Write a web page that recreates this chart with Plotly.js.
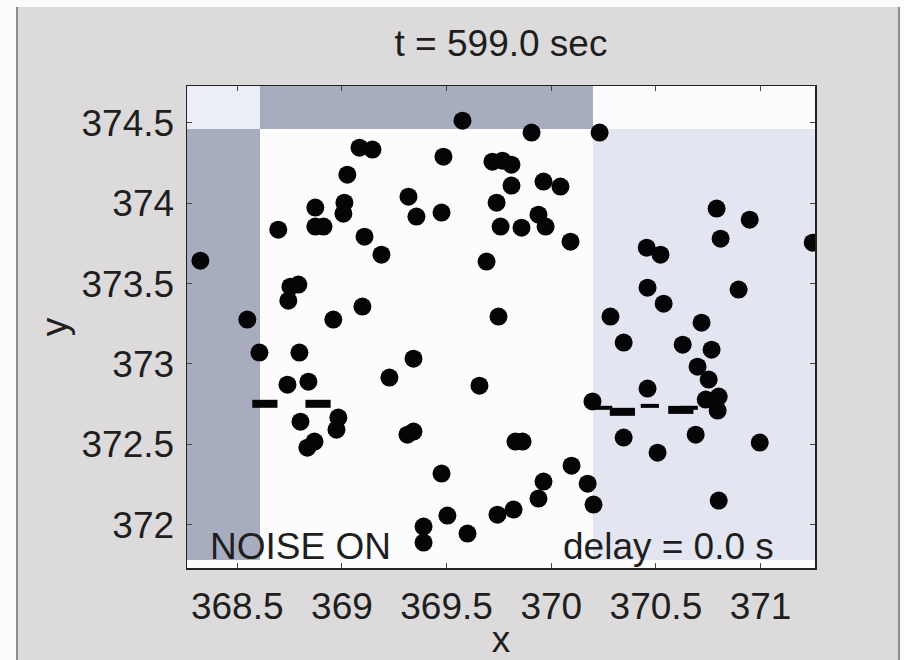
<!DOCTYPE html>
<html>
<head>
<meta charset="utf-8">
<script src="https://cdn.plot.ly/plotly-3.0.1.min.js"></script>
<style>
  html, body { margin: 0; padding: 0; background: #fbfbfb; width: 904px; height: 660px; overflow: hidden; }
  #frame { position: absolute; left: 16px; top: 7px; width: 880px; height: 653px;
           border-left: 2px solid #8c8c8c; border-right: 2px solid #8c8c8c; background: #dddadb; }
  #chart { width: 880px; height: 653px; }
</style>
</head>
<body>
<div id="frame"><div id="chart"></div></div>
<script>
// ---- data ----
const dotX = [
  368.324, 368.548, 368.606, 368.696, 368.873, 368.873, 368.912, 369.026, 369.012, 369.007,
  369.084, 369.146, 369.485, 369.318, 369.356, 369.476, 369.108, 369.189, 368.754, 368.792,
  368.744, 369.098, 368.959, 368.797, 369.342, 368.740, 368.840, 369.227, 368.802, 368.983,
  368.974, 369.313, 369.342, 368.835, 368.869, 369.476, 369.504, 369.600, 369.390, 369.390,
  369.576, 369.906, 370.231, 369.719, 369.767, 369.810, 369.810, 369.739, 369.963, 370.044,
  369.939, 369.973, 369.758, 369.858, 370.092, 369.691, 369.748, 369.657, 369.829, 369.863,
  370.097, 369.963, 370.174, 369.939, 370.202, 369.820, 369.743,
  370.790, 370.948, 370.809, 371.249, 370.456, 370.522, 370.460, 370.895, 370.537, 370.283,
  370.718, 370.346, 370.628, 370.766, 370.699, 370.752, 370.460, 370.800, 370.795, 370.346,
  370.690, 370.996, 370.508, 370.800, 370.197, 370.738
];
const dotY = [
  373.643, 373.276, 373.071, 373.836, 373.973, 373.855, 373.855, 374.178, 374.004, 373.935,
  374.346, 374.334, 374.290, 374.041, 373.917, 373.942, 373.792, 373.680, 373.481, 373.494,
  373.394, 373.357, 373.276, 373.071, 373.033, 372.871, 372.890, 372.915, 372.641, 372.666,
  372.591, 372.560, 372.579, 372.479, 372.517, 372.318, 372.056, 371.944, 371.988, 371.888,
  374.514, 374.440, 374.440, 374.259, 374.265, 374.240, 374.110, 374.004, 374.135, 374.104,
  373.929, 373.855, 373.855, 373.848, 373.761, 373.637, 373.295, 372.865, 372.517, 372.517,
  372.367, 372.268, 372.255, 372.162, 372.125, 372.094, 372.062,
  373.967, 373.898, 373.780, 373.755, 373.724, 373.680, 373.475, 373.463, 373.375, 373.295,
  373.257, 373.133, 373.120, 373.089, 372.983, 372.903, 372.847, 372.797, 372.710, 372.542,
  372.560, 372.511, 372.448, 372.150, 372.767, 372.778
];
// partial (cut) dots along the frame seam
const seamBigX = [368.632, 368.886, 370.340, 370.619];
const seamBigY = [372.752, 372.752, 372.702, 372.714];
const seamSmallX = [370.248, 370.471, 370.657];
const seamSmallY = [372.727, 372.739, 372.727];

// background cells
const cellXEdges = [368.26, 368.61, 370.20, 371.26];
const cellYEdges = [371.73, 371.78, 374.46, 374.73];
const cellLevel = [
  [0, 0, 0],
  [3, 0, 2],
  [1, 3, 0]
];

const xTicks = [368.5, 369, 369.5, 370, 370.5, 371];
const xTickText = ['368.5', '369', '369.5', '370', '370.5', '371'];
const yTicks = [372, 372.5, 373, 373.5, 374, 374.5];
const yTickText = ['372', '372.5', '373', '373.5', '374', '374.5'];

const titleText = 't = 599.0 sec';
const noteLeft = 'NOISE ON';
const noteRight = 'delay = 0.0 s';

// ---- chart ----
const FONT = 'Liberation Sans, Arial, sans-serif';
const INK = '#1e1e1e';

const traces = [
  {
    type: 'heatmap', x: cellXEdges, y: cellYEdges, z: cellLevel,
    zmin: 0, zmax: 3, showscale: false, hoverinfo: 'skip',
    colorscale: [[0, '#fcfcfe'], [0.3333, '#eceef5'], [0.6667, '#e3e6f0'], [1, '#a8acbf']]
  },
  {
    type: 'scatter', mode: 'markers', x: dotX, y: dotY,
    marker: { symbol: 'circle', size: 18, color: '#050508', line: { width: 0 } },
    cliponaxis: true, hoverinfo: 'x+y'
  },
  {
    type: 'scatter', mode: 'markers', x: seamBigX, y: seamBigY,
    marker: { symbol: 'line-ew', size: 18, line: { width: 8, color: '#050508' } },
    hoverinfo: 'skip'
  },
  {
    type: 'scatter', mode: 'markers', x: seamSmallX, y: seamSmallY,
    marker: { symbol: 'line-ew', size: 13, line: { width: 4, color: '#050508' } },
    hoverinfo: 'skip'
  }
];

const axisCommon = {
  showgrid: false, zeroline: false, showline: true, linecolor: '#222', linewidth: 1.5,
  mirror: 'ticks', ticks: 'inside', ticklen: 5, tickwidth: 1, tickcolor: '#444',
  tickfont: { family: FONT, size: 37, color: INK }
};

const layout = {
  width: 880, height: 653,
  margin: { l: 169, r: 83, t: 79, b: 92 },
  paper_bgcolor: '#dddadb', plot_bgcolor: '#ffffff',
  showlegend: false,
  title: {
    text: titleText, font: { family: FONT, size: 37, color: INK },
    xref: 'paper', x: 0.5, xanchor: 'center', yref: 'container', y: 0.945, yanchor: 'middle'
  },
  xaxis: Object.assign({}, axisCommon, {
    range: [368.26, 371.26], tickvals: xTicks, ticktext: xTickText, ticklabelstandoff: 5,
    title: { text: 'x', font: { family: FONT, size: 37, color: INK }, standoff: 0 }
  }),
  yaxis: Object.assign({}, axisCommon, {
    range: [371.73, 374.73], tickvals: yTicks, ticktext: yTickText, ticklabelstandoff: 4,
    title: { text: 'y', font: { family: FONT, size: 37, color: INK }, standoff: 2 }
  }),
  annotations: [
    { text: noteLeft, xref: 'x', yref: 'y', x: 368.362, y: 371.863, xanchor: 'left', yanchor: 'middle',
      showarrow: false, font: { family: FONT, size: 37, color: INK } },
    { text: noteRight, xref: 'x', yref: 'y', x: 371.072, y: 371.863, xanchor: 'right', yanchor: 'middle',
      showarrow: false, font: { family: FONT, size: 37, color: INK } }
  ]
};

Plotly.newPlot('chart', traces, layout, { displayModeBar: false, staticPlot: true });
</script>
</body>
</html>
